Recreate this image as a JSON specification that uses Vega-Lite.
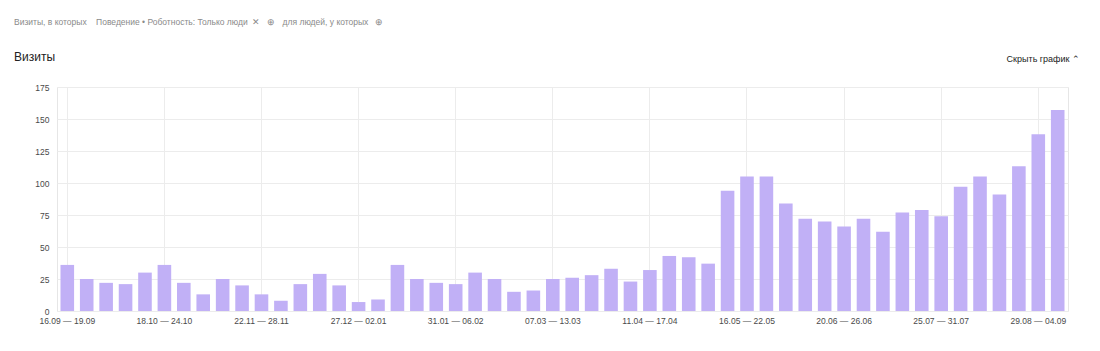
{
  "$schema": "https://vega.github.io/schema/vega-lite/v6.json",
  "width": 1011,
  "height": 224,
  "autosize": {"type": "none"},
  "padding": {"left": 57, "top": 87, "right": 32, "bottom": 40},
  "background": "#ffffff",
  "title": {
    "text": "Визиты, в которых \u00a0\u00a0 Поведение • Роботность: Только люди \u00a0✕\u00a0\u00a0 ⊕ \u00a0 для людей, у которых \u00a0 ⊕",
    "subtitle": "Визиты",
    "anchor": "start",
    "frame": "group",
    "dx": -43,
    "offset": -8,
    "font": "Liberation Sans",
    "fontSize": 8.5,
    "fontWeight": "normal",
    "color": "#8a8a8a",
    "subtitleFont": "Liberation Sans",
    "subtitleFontSize": 12,
    "subtitleColor": "#222222",
    "subtitlePadding": 25
  },
  "config": {
    "view": {"stroke": "#e6e6e6"},
    "axis": {
      "labelFont": "Liberation Sans",
      "labelFontSize": 8.5,
      "labelColor": "#4a4a4a",
      "ticks": false,
      "domain": false,
      "gridColor": "#ececec",
      "title": null
    }
  },
  "data": {
    "values": [
      {"week": "16.09 — 19.09", "visits": 36},
      {"week": "20.09 — 26.09", "visits": 25},
      {"week": "27.09 — 03.10", "visits": 22},
      {"week": "04.10 — 10.10", "visits": 21},
      {"week": "11.10 — 17.10", "visits": 30},
      {"week": "18.10 — 24.10", "visits": 36},
      {"week": "25.10 — 31.10", "visits": 22},
      {"week": "01.11 — 07.11", "visits": 13},
      {"week": "08.11 — 14.11", "visits": 25},
      {"week": "15.11 — 21.11", "visits": 20},
      {"week": "22.11 — 28.11", "visits": 13},
      {"week": "29.11 — 05.12", "visits": 8},
      {"week": "06.12 — 12.12", "visits": 21},
      {"week": "13.12 — 19.12", "visits": 29},
      {"week": "20.12 — 26.12", "visits": 20},
      {"week": "27.12 — 02.01", "visits": 7},
      {"week": "03.01 — 09.01", "visits": 9},
      {"week": "10.01 — 16.01", "visits": 36},
      {"week": "17.01 — 23.01", "visits": 25},
      {"week": "24.01 — 30.01", "visits": 22},
      {"week": "31.01 — 06.02", "visits": 21},
      {"week": "07.02 — 13.02", "visits": 30},
      {"week": "14.02 — 20.02", "visits": 25},
      {"week": "21.02 — 27.02", "visits": 15},
      {"week": "28.02 — 06.03", "visits": 16},
      {"week": "07.03 — 13.03", "visits": 25},
      {"week": "14.03 — 20.03", "visits": 26},
      {"week": "21.03 — 27.03", "visits": 28},
      {"week": "28.03 — 03.04", "visits": 33},
      {"week": "04.04 — 10.04", "visits": 23},
      {"week": "11.04 — 17.04", "visits": 32},
      {"week": "18.04 — 24.04", "visits": 43},
      {"week": "25.04 — 01.05", "visits": 42},
      {"week": "02.05 — 08.05", "visits": 37},
      {"week": "09.05 — 15.05", "visits": 94},
      {"week": "16.05 — 22.05", "visits": 105},
      {"week": "23.05 — 29.05", "visits": 105},
      {"week": "30.05 — 05.06", "visits": 84},
      {"week": "06.06 — 12.06", "visits": 72},
      {"week": "13.06 — 19.06", "visits": 70},
      {"week": "20.06 — 26.06", "visits": 66},
      {"week": "27.06 — 03.07", "visits": 72},
      {"week": "04.07 — 10.07", "visits": 62},
      {"week": "11.07 — 17.07", "visits": 77},
      {"week": "18.07 — 24.07", "visits": 79},
      {"week": "25.07 — 31.07", "visits": 74},
      {"week": "01.08 — 07.08", "visits": 97},
      {"week": "08.08 — 14.08", "visits": 105},
      {"week": "15.08 — 21.08", "visits": 91},
      {"week": "22.08 — 28.08", "visits": 113},
      {"week": "29.08 — 04.09", "visits": 138},
      {"week": "05.09 — 11.09", "visits": 157}
    ]
  },
  "layer": [
    {
      "mark": {"type": "bar", "color": "#c1b0f6"},
      "encoding": {
        "x": {
          "field": "week",
          "type": "ordinal",
          "sort": null,
          "scale": {"paddingInner": 0.3, "paddingOuter": 0.18},
          "axis": {
            "values": ["16.09 — 19.09", "18.10 — 24.10", "22.11 — 28.11", "27.12 — 02.01", "31.01 — 06.02", "07.03 — 13.03", "11.04 — 17.04", "16.05 — 22.05", "20.06 — 26.06", "25.07 — 31.07", "29.08 — 04.09"],
            "grid": true,
            "bandPosition": 0.5,
            "labelAngle": 0,
            "labelOverlap": false,
            "labelPadding": 5
          }
        },
        "y": {
          "field": "visits",
          "type": "quantitative",
          "scale": {"domain": [0, 175], "nice": false},
          "axis": {
            "values": [0, 25, 50, 75, 100, 125, 150, 175],
            "labelOverlap": false,
            "labelPadding": 8
          }
        }
      }
    },
    {
      "data": {"values": [{"label": "Скрыть график ⌃"}]},
      "mark": {"type": "text", "font": "Liberation Sans", "fontSize": 9, "color": "#222222", "dx": 5},
      "encoding": {
        "text": {"field": "label"},
        "x": {
          "datum": "29.08 — 04.09",
          "type": "ordinal",
          "axis": {
            "values": ["16.09 — 19.09", "18.10 — 24.10", "22.11 — 28.11", "27.12 — 02.01", "31.01 — 06.02", "07.03 — 13.03", "11.04 — 17.04", "16.05 — 22.05", "20.06 — 26.06", "25.07 — 31.07", "29.08 — 04.09"],
            "grid": true,
            "bandPosition": 0.5,
            "labelAngle": 0,
            "labelOverlap": false,
            "labelPadding": 5
          }
        },
        "y": {
          "datum": 197,
          "type": "quantitative",
          "scale": {"domain": [0, 175], "nice": false},
          "axis": {
            "values": [0, 25, 50, 75, 100, 125, 150, 175],
            "labelOverlap": false,
            "labelPadding": 8
          }
        }
      }
    }
  ]
}
